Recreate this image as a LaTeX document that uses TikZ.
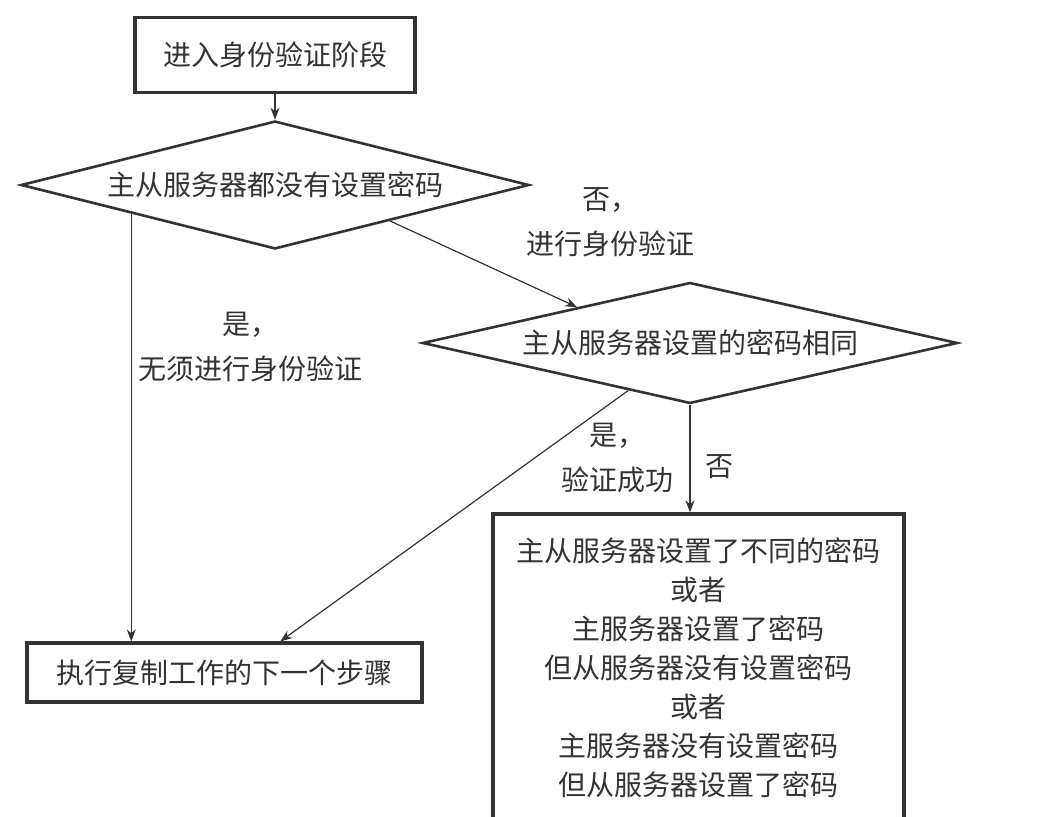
\documentclass[tikz,border=0pt]{standalone}
\usepackage{fontspec}
\setmainfont{Noto Sans CJK SC}
\usepackage{xcolor}
\usepackage{tikz}
\usetikzlibrary{shapes.geometric, arrows.meta, positioning, calc}
\definecolor{trait}{HTML}{333333}

\begin{document}
\begin{tikzpicture}[x=0.5pt, y=-0.5pt,
		boite/.style={rectangle, draw=trait, line width=1.6pt, inner sep=0pt, text=trait, font=\fontsize{14pt}{19.5pt}\selectfont, align=center},
		losange/.style={diamond, draw=trait, line width=1.3pt, aspect=4, inner sep=0pt, text=trait, font=\fontsize{14pt}{19.5pt}\selectfont},
		fleche/.style={-{Stealth[length=6pt, width=4.5pt]}, draw=trait, line width=0.6pt},
		etiquette/.style={align=center, text=trait, font=\fontsize{14pt}{22.5pt}\selectfont}]
		\useasboundingbox (0,0) rectangle (1050,817);
		\clip (0,0) rectangle (1050,817);
		
		% Début
		\node[boite, minimum width=140pt, minimum height=37.5pt] (debut) at (275,55) {进入身份验证阶段};
		
		% Tests
		\node[losange, minimum width=254pt, minimum height=64pt] (test1) at (275,185) {主从服务器都没有设置密码};
		\node[losange, minimum width=267.5pt, minimum height=60.5pt] (test2) at (690,343) {主从服务器设置的密码相同};
		
		% Issues
		\node[boite, minimum width=197.5pt, minimum height=29.5pt] (suite) at (224.5,672.5) {执行复制工作的下一个步骤};
		\node[boite, minimum width=205.5pt, minimum height=154pt] (echec) at (698.5,668) {主从服务器设置了不同的密码\\或者\\主服务器设置了密码\\但从服务器没有设置密码\\或者\\主服务器没有设置密码\\但从服务器设置了密码};
		
		% Flèches
		\draw[fleche] (debut) -- (test1);
		\coordinate (gauche) at ($(test1.west)!0.437!(test1.south)$);
		\draw[fleche] (gauche) -- (gauche |- suite.north);
		\draw[fleche] ($(test1.east)!0.55!(test1.south)$) -- ($(test2.west)!0.58!(test2.north)$);
		\draw[fleche] ($(test2.west)!0.77!(test2.south)$) -- ($(suite.north west)!0.64!(suite.north east)$);
		\draw[fleche] (test2.south) -- (test2.south |- echec.north);
		
		% Étiquettes
		\node[etiquette] (non1) at (610,222) {否，\\进行身份验证};
		\node[etiquette] (oui1) at (250,347) {是，\\无须进行身份验证};
		\node[etiquette] (oui2) at (617,458) {是，\\验证成功};
		\node[etiquette] (non2) at (719,467) {否};
		
	\end{tikzpicture}
\end{document}
